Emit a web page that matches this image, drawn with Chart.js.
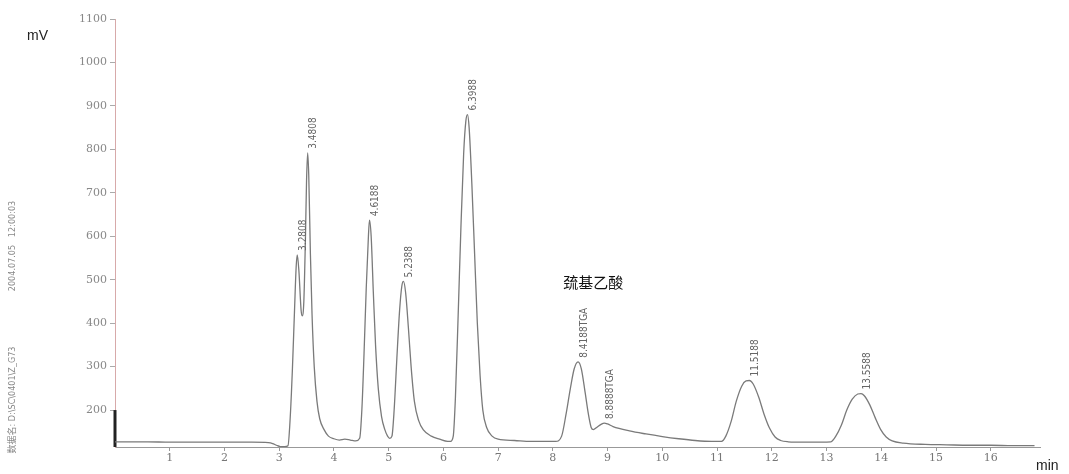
<html lang="zh">
<head>
    <meta charset="UTF-8">
    <title>Chromatogram</title>
    <script src="https://cdn.jsdelivr.net/npm/chart.js"></script>
    <style>
        html, body { margin: 0; padding: 0; background: #fff; }
        #wrap { width: 1069px; height: 474px; position: relative; }
    </style>
</head>
<body>
    <div id="wrap"><canvas id="chromChart" width="1069" height="474"></canvas></div>

    <script>
        // retention time (min) and detector signal (mV)
        const times = [
            0.00, 0.30, 0.60, 1.00, 1.50, 2.00, 2.50, 2.80, 2.88, 2.95, 3.02, 3.10, 3.16,
            3.20, 3.24, 3.28, 3.31, 3.33, 3.36, 3.40, 3.42, 3.45, 3.48, 3.50, 3.52, 3.54,
            3.57, 3.60, 3.64, 3.69, 3.74, 3.82, 3.90, 4.00, 4.10, 4.20, 4.30, 4.40, 4.47,
            4.51, 4.55, 4.59, 4.63, 4.65, 4.68, 4.72, 4.76, 4.81, 4.87, 4.93, 4.98, 5.02,
            5.06, 5.10, 5.15, 5.20, 5.24, 5.27, 5.31, 5.36, 5.41, 5.47, 5.55, 5.63, 5.78,
            5.93, 6.08, 6.13, 6.18, 6.22, 6.27, 6.32, 6.37, 6.41, 6.44, 6.47, 6.52, 6.57,
            6.62, 6.67, 6.72, 6.79, 6.89, 7.00, 7.30, 7.60, 7.90, 8.05, 8.16, 8.24, 8.32,
            8.39, 8.46, 8.52, 8.59, 8.65, 8.70, 8.74, 8.80, 8.88, 8.94, 9.00, 9.10, 9.40,
            9.70, 10.00, 10.30, 10.60, 10.90, 11.08, 11.16, 11.26, 11.35, 11.45, 11.53,
            11.59, 11.66, 11.76, 11.86, 11.96, 12.06, 12.16, 12.30, 12.60, 12.90, 13.08,
            13.17, 13.27, 13.37, 13.47, 13.57, 13.63, 13.69, 13.79, 13.89, 13.99, 14.09,
            14.20, 14.40, 14.80, 15.20, 15.60, 16.00, 16.40, 16.80
        ];
        const signal = [
            127, 127, 127, 126, 126, 126, 126, 125, 123, 119, 116, 116, 118,
            180, 290, 430, 530, 557, 520, 430, 417, 450, 600, 730, 792, 740,
            560, 420, 300, 220, 180, 155, 140, 134, 131, 133, 131, 129, 135,
            200, 330, 480, 600, 637, 600, 470, 350, 250, 185, 155, 140, 135,
            140, 200, 320, 430, 485, 496, 470, 390, 300, 220, 175, 155, 140,
            133, 128, 128, 140, 230, 420, 620, 790, 865, 880, 850, 720, 560,
            400, 280, 200, 160, 140, 133, 130, 128, 128, 128, 140, 190, 250,
            295, 311, 295, 240, 190, 160, 155, 160, 167, 170, 168, 162, 152,
            145, 139, 134, 130, 128, 128, 140, 175, 220, 255, 267,
            268, 260, 230, 190, 158, 138, 130, 127, 126, 126, 127,
            140, 165, 200, 225, 237, 238, 233, 212, 182, 155, 138,
            129, 124, 121, 120, 119, 119, 118, 118
        ];

        // integrator peak annotations
        const peakTimes  = [3.33, 3.52, 4.65, 5.27, 6.44, 8.46, 8.94, 11.59, 13.63];
        const peakValues = [557, 792, 637, 496, 880, 311, 170, 268, 238];
        const peakLabels = ['3.2808', '3.4808', '4.6188', '5.2388', '6.3988',
                            '8.4188TGA', '8.8888TGA', '11.5188', '13.5588'];

        const xTicks = [1, 2, 3, 4, 5, 6, 7, 8, 9, 10, 11, 12, 13, 14, 15, 16];
        const yTicks = [200, 300, 400, 500, 600, 700, 800, 900, 1000, 1100];
        const yMin = 115, yMax = 1100, xMin = 0, xMax = 16.9;

        const tickFont = { family: 'DejaVu Serif', size: 11 };

        const annotations = {
            id: 'annotations',
            afterDatasetsDraw(chart) {
                const ctx = chart.ctx;
                const xs = chart.scales.x, ys = chart.scales.y;
                ctx.save();
                ctx.fillStyle = '#666';
                ctx.font = '10px "DejaVu Sans Condensed", "DejaVu Sans"';
                ctx.textAlign = 'left';
                ctx.textBaseline = 'middle';
                peakTimes.forEach((t, i) => {
                    const px = xs.getPixelForValue(t) + 6;
                    const py = ys.getPixelForValue(peakValues[i]) - 4;
                    ctx.save();
                    ctx.translate(px, py);
                    ctx.rotate(-Math.PI / 2);
                    ctx.fillText(peakLabels[i], 0, 0);
                    ctx.restore();
                });

                // compound name over the TGA peak
                ctx.fillStyle = '#111';
                ctx.font = '15px "Noto Sans CJK SC"';
                ctx.textAlign = 'center';
                ctx.fillText('巯基乙酸', xs.getPixelForValue(8.74), ys.getPixelForValue(495));

                // units
                ctx.font = '14px "Liberation Sans", Arial';
                ctx.fillStyle = '#222';
                ctx.textAlign = 'left';
                ctx.fillText('mV', 27, 36);
                ctx.fillText('min', 1036, 466);

                // run info printed sideways on the left margin
                ctx.fillStyle = '#888';
                ctx.font = '9px "DejaVu Sans Condensed", "Noto Sans CJK SC"';
                ctx.textAlign = 'center';
                ctx.save();
                ctx.translate(13, 246);
                ctx.rotate(-Math.PI / 2);
                ctx.fillText('2004.07.05   12:00:03', 0, 0);
                ctx.restore();
                ctx.save();
                ctx.translate(13, 400);
                ctx.rotate(-Math.PI / 2);
                ctx.fillText('数据名: D:\\SC\\0401\\Z_G73', 0, 0);
                ctx.restore();
                ctx.restore();
            }
        };

        new Chart(document.getElementById('chromChart').getContext('2d'), {
            type: 'line',
            data: {
                datasets: [{
                    data: times.map((t, i) => ({ x: t, y: signal[i] })),
                    borderColor: '#7a7a7a',
                    borderWidth: 1.3,
                    pointRadius: 0,
                    cubicInterpolationMode: 'monotone',
                    fill: false
                }, {
                    // dark stub on the lower part of the y axis
                    data: [{ x: xMin, y: yMin }, { x: xMin, y: 200 }],
                    borderColor: '#222',
                    borderWidth: 3,
                    pointRadius: 0,
                    clip: false
                }]
            },
            options: {
                animation: false,
                responsive: false,
                layout: { padding: { top: 19, right: 29, left: 0, bottom: 0 } },
                plugins: { legend: { display: false }, tooltip: { enabled: false } },
                scales: {
                    x: {
                        type: 'linear',
                        min: xMin,
                        max: xMax,
                        afterBuildTicks: s => { s.ticks = xTicks.map(v => ({ value: v })); },
                        afterFit: s => { s.height = 27; },
                        border: { color: '#999', width: 1 },
                        grid: { drawOnChartArea: false, tickLength: 4, color: '#999' },
                        ticks: { color: '#777', font: tickFont, padding: 1, maxRotation: 0 }
                    },
                    y: {
                        min: yMin,
                        max: yMax,
                        afterBuildTicks: s => { s.ticks = yTicks.map(v => ({ value: v })); },
                        afterFit: s => { s.width = 115; },
                        border: { color: '#d7a9a9', width: 1 },
                        grid: { drawOnChartArea: false, tickLength: 5, color: '#aaa' },
                        ticks: { color: '#888', font: tickFont, padding: 3, callback: v => String(v) }
                    }
                }
            },
            plugins: [annotations]
        });
    </script>
</body>
</html>
